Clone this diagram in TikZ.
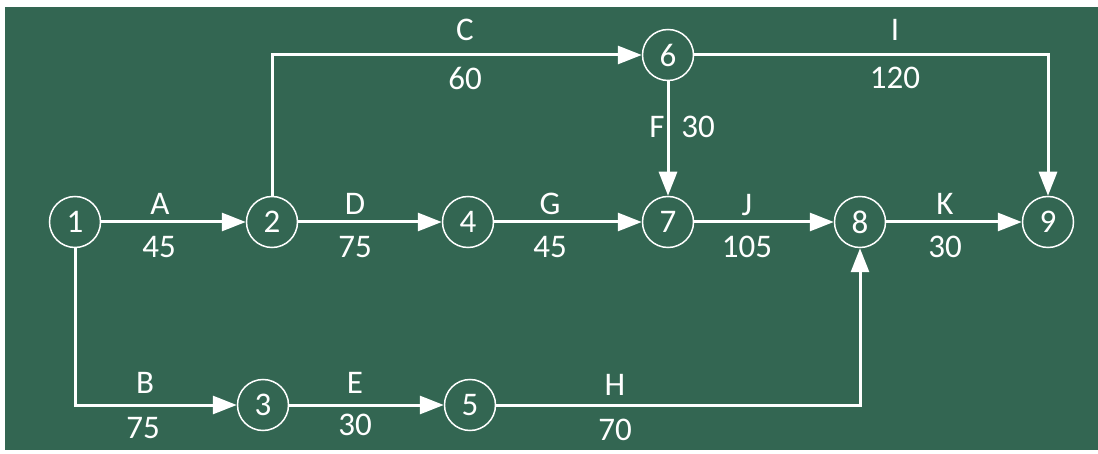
\documentclass[tikz,border=0pt]{standalone}
\usepackage{fontspec}
\setmainfont{Carlito}
\usetikzlibrary{arrows.meta,positioning}
\definecolor{boardgreen}{HTML}{336652}

\begin{document}
\begin{tikzpicture}[x=1pt,y=-1pt,
event/.style={circle,draw=white,line width=1.5pt,text=white,
minimum size=51pt,inner sep=0pt,font=\fontsize{33}{33}\selectfont},
lbl/.style={text=white,inner sep=0pt,font=\fontsize{33}{33}\selectfont},
act/.style={draw=white,line width=3pt,-{Triangle[length=24pt,width=18pt]}}
]
% board
\useasboundingbox (0,0) rectangle (1098,454);
\fill[white] (0,0) rectangle (1098,454);
\fill[boardgreen] (5,7) rectangle (1098,450);

% events
\node[event] (n1) at (75,222) {1};
\node[event] (n2) at (272,222) {2};
\node[event] (n4) at (468,222) {4};
\node[event] (n7) at (668,222) {7};
\node[event] (n6) at (668,55) {6};
\node[event] (n8) at (860,222) {8};
\node[event] (n9) at (1048,222) {9};
\node[event] (n3) at (263,405) {3};
\node[event] (n5) at (470,405) {5};

% activities
\draw[act] (n1) -- (n2);
\draw[act] (n2) -- (n4);
\draw[act] (n4) -- (n7);
\draw[act] (n7) -- (n8);
\draw[act] (n8) -- (n9);
\draw[act] (n2.north) |- (n6);
\draw[act] (n6) -| (n9.north);
\draw[act] (n6) -- (n7);
\draw[act] (n1.south) |- (n3);
\draw[act] (n3) -- (n5);
\draw[act] (n5) -| (n8.south);

% labels
\node[lbl] (tA) at (160,204) {A};
\node[lbl] (dA) at (159,247) {45};
\node[lbl] (tD) at (355,204) {D};
\node[lbl] (dD) at (355,247) {75};
\node[lbl] (tG) at (550,204) {G};
\node[lbl] (dG) at (550,247) {45};
\node[lbl] (tJ) at (747,205) {J};
\node[lbl] (dJ) at (747,247) {105};
\node[lbl] (tK) at (945,204) {K};
\node[lbl] (dK) at (945,247) {30};
\node[lbl] (tF) at (657,127) {F};
\node[lbl] (dF) at (698,127) {30};
\node[lbl] (tC) at (465,30) {C};
\node[lbl] (dC) at (465,78) {60};
\node[lbl] (tI) at (895,30) {I};
\node[lbl] (dI) at (895,78) {120};
\node[lbl] (tB) at (145,383) {B};
\node[lbl] (dB) at (143,428) {75};
\node[lbl] (tE) at (355,383) {E};
\node[lbl] (dE) at (355,425) {30};
\node[lbl] (tH) at (615,385) {H};
\node[lbl] (dH) at (615,430) {70};
\end{tikzpicture}
\end{document}
